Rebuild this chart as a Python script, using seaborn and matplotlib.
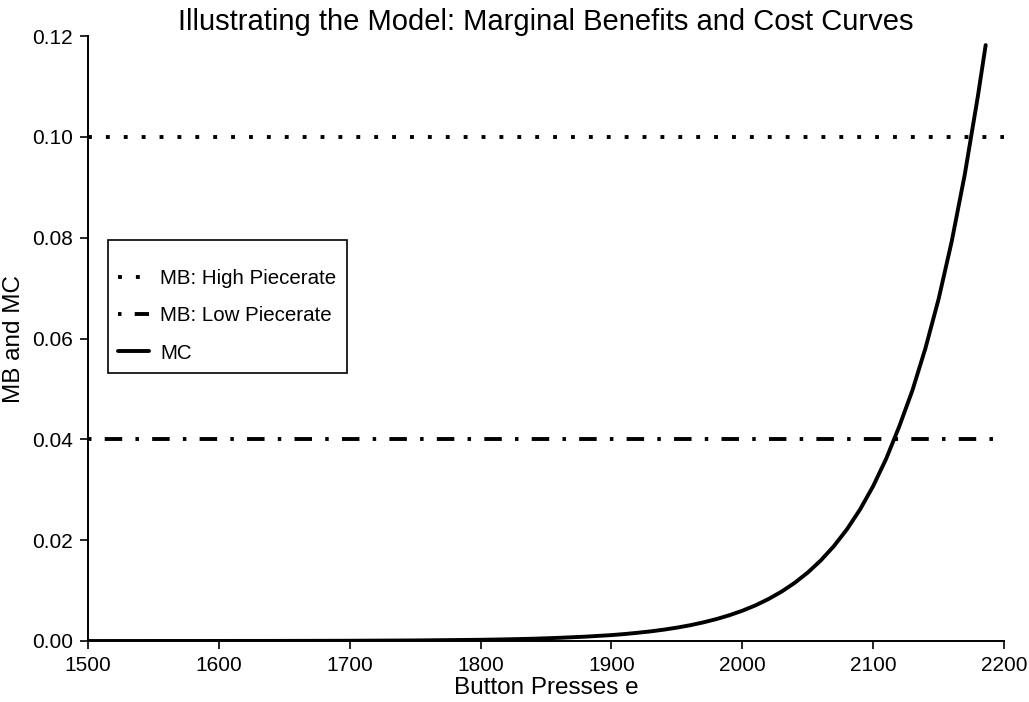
import matplotlib
matplotlib.use("Agg")
import matplotlib.pyplot as plt
import matplotlib.ticker as mticker
import pandas as pd
import seaborn as sns

# ------------------------------------------------------------
# data
# ------------------------------------------------------------
presses = [1500, 1600, 1650, 1700, 1750, 1800, 1820, 1840, 1860, 1880,
           1900, 1910, 1920, 1930, 1940, 1950, 1960, 1970, 1980, 1990,
           2000, 2010, 2020, 2030, 2040, 2050, 2060, 2070, 2080, 2090,
           2100, 2110, 2120, 2130, 2140, 2150, 2160, 2170, 2180, 2186]
mc = [0.0, 0.00001, 0.00002, 0.00005, 0.00011, 0.00024, 0.00033, 0.00045,
      0.00063, 0.00086, 0.00117, 0.00138, 0.00163, 0.00191, 0.00225,
      0.00265, 0.00312, 0.00368, 0.00433, 0.00510, 0.00600, 0.00706,
      0.00832, 0.00979, 0.01153, 0.01357, 0.01598, 0.01882, 0.02216,
      0.02609, 0.03072, 0.03617, 0.04259, 0.0497, 0.0581, 0.0678, 0.0792,
      0.0925, 0.1080, 0.1182]

mb_range = [1500, 2200]
mb_high = [0.10, 0.10]
mb_low = [0.04, 0.04]

x_ticks = [1500, 1600, 1700, 1800, 1900, 2000, 2100, 2200]
y_ticks = [0.00, 0.02, 0.04, 0.06, 0.08, 0.10, 0.12]

df_mc = pd.DataFrame({"e": presses, "val": mc})
df_high = pd.DataFrame({"e": mb_range, "val": mb_high})
df_low = pd.DataFrame({"e": mb_range, "val": mb_low})

# ------------------------------------------------------------
# style
# ------------------------------------------------------------
sns.set_theme(style="ticks")
plt.rcParams["font.family"] = ["Liberation Sans", "DejaVu Sans"]
plt.rcParams["text.color"] = "black"
plt.rcParams["axes.labelcolor"] = "black"
plt.rcParams["axes.titlecolor"] = "black"
plt.rcParams["axes.linewidth"] = 1.4
plt.rcParams["xtick.major.width"] = 1.2
plt.rcParams["ytick.major.width"] = 1.2
plt.rcParams["xtick.major.size"] = 6
plt.rcParams["ytick.major.size"] = 6
plt.rcParams["xtick.color"] = "black"
plt.rcParams["ytick.color"] = "black"
plt.rcParams["axes.edgecolor"] = "black"

LW = 2.8
DOT = (0, (1.0, 3.6))
DASHDOT = (0, (0.9, 3.4, 4.5, 3.4))

fig = plt.figure(figsize=(10.29, 7.02), dpi=100)
ax = fig.add_axes([88 / 1029, 1 - 641 / 702, 916 / 1029, 605 / 702])

sns.lineplot(data=df_high, x="e", y="val", ax=ax, color="black", lw=LW,
             label="MB: High Piecerate", dashes=False)
sns.lineplot(data=df_low, x="e", y="val", ax=ax, color="black", lw=LW,
             label="MB: Low Piecerate", dashes=False)
sns.lineplot(data=df_mc, x="e", y="val", ax=ax, color="black", lw=LW,
             label="MC", dashes=False)

lines = ax.get_lines()
lines[0].set_linestyle(DOT)
lines[1].set_linestyle(DASHDOT)
for ln in lines[:2]:
    ln.set_dash_capstyle("butt")

ax.set_xlim(1500, 2200)
ax.set_ylim(0, 0.12)
ax.set_xticks(x_ticks)
ax.set_yticks(y_ticks)
ax.yaxis.set_major_formatter(mticker.FormatStrFormatter("%.2f"))
ax.tick_params(labelsize=15, pad=5)

ax.set_xlabel("Button Presses e", fontsize=17.5, labelpad=1)
ax.set_ylabel("MB and MC", fontsize=17.5, labelpad=5)
ax.set_title("Illustrating the Model: Marginal Benefits and Cost Curves",
             fontsize=21, pad=3)

sns.despine(ax=ax)

leg = ax.legend(loc="upper left", bbox_to_anchor=(20 / 916, (641 - 240) / 605),
                borderaxespad=0, fontsize=14.8, frameon=True, fancybox=False,
                edgecolor="black", framealpha=1, handlelength=1.5,
                handletextpad=0.55, labelspacing=0.88, borderpad=0.5,
                title=" ", title_fontsize=1)
leg.get_frame().set_linewidth(1.2)
leg.get_lines()[0].set_linestyle(DOT)
leg.get_lines()[1].set_linestyle(DASHDOT)

fig.savefig("out.png", dpi=100)
